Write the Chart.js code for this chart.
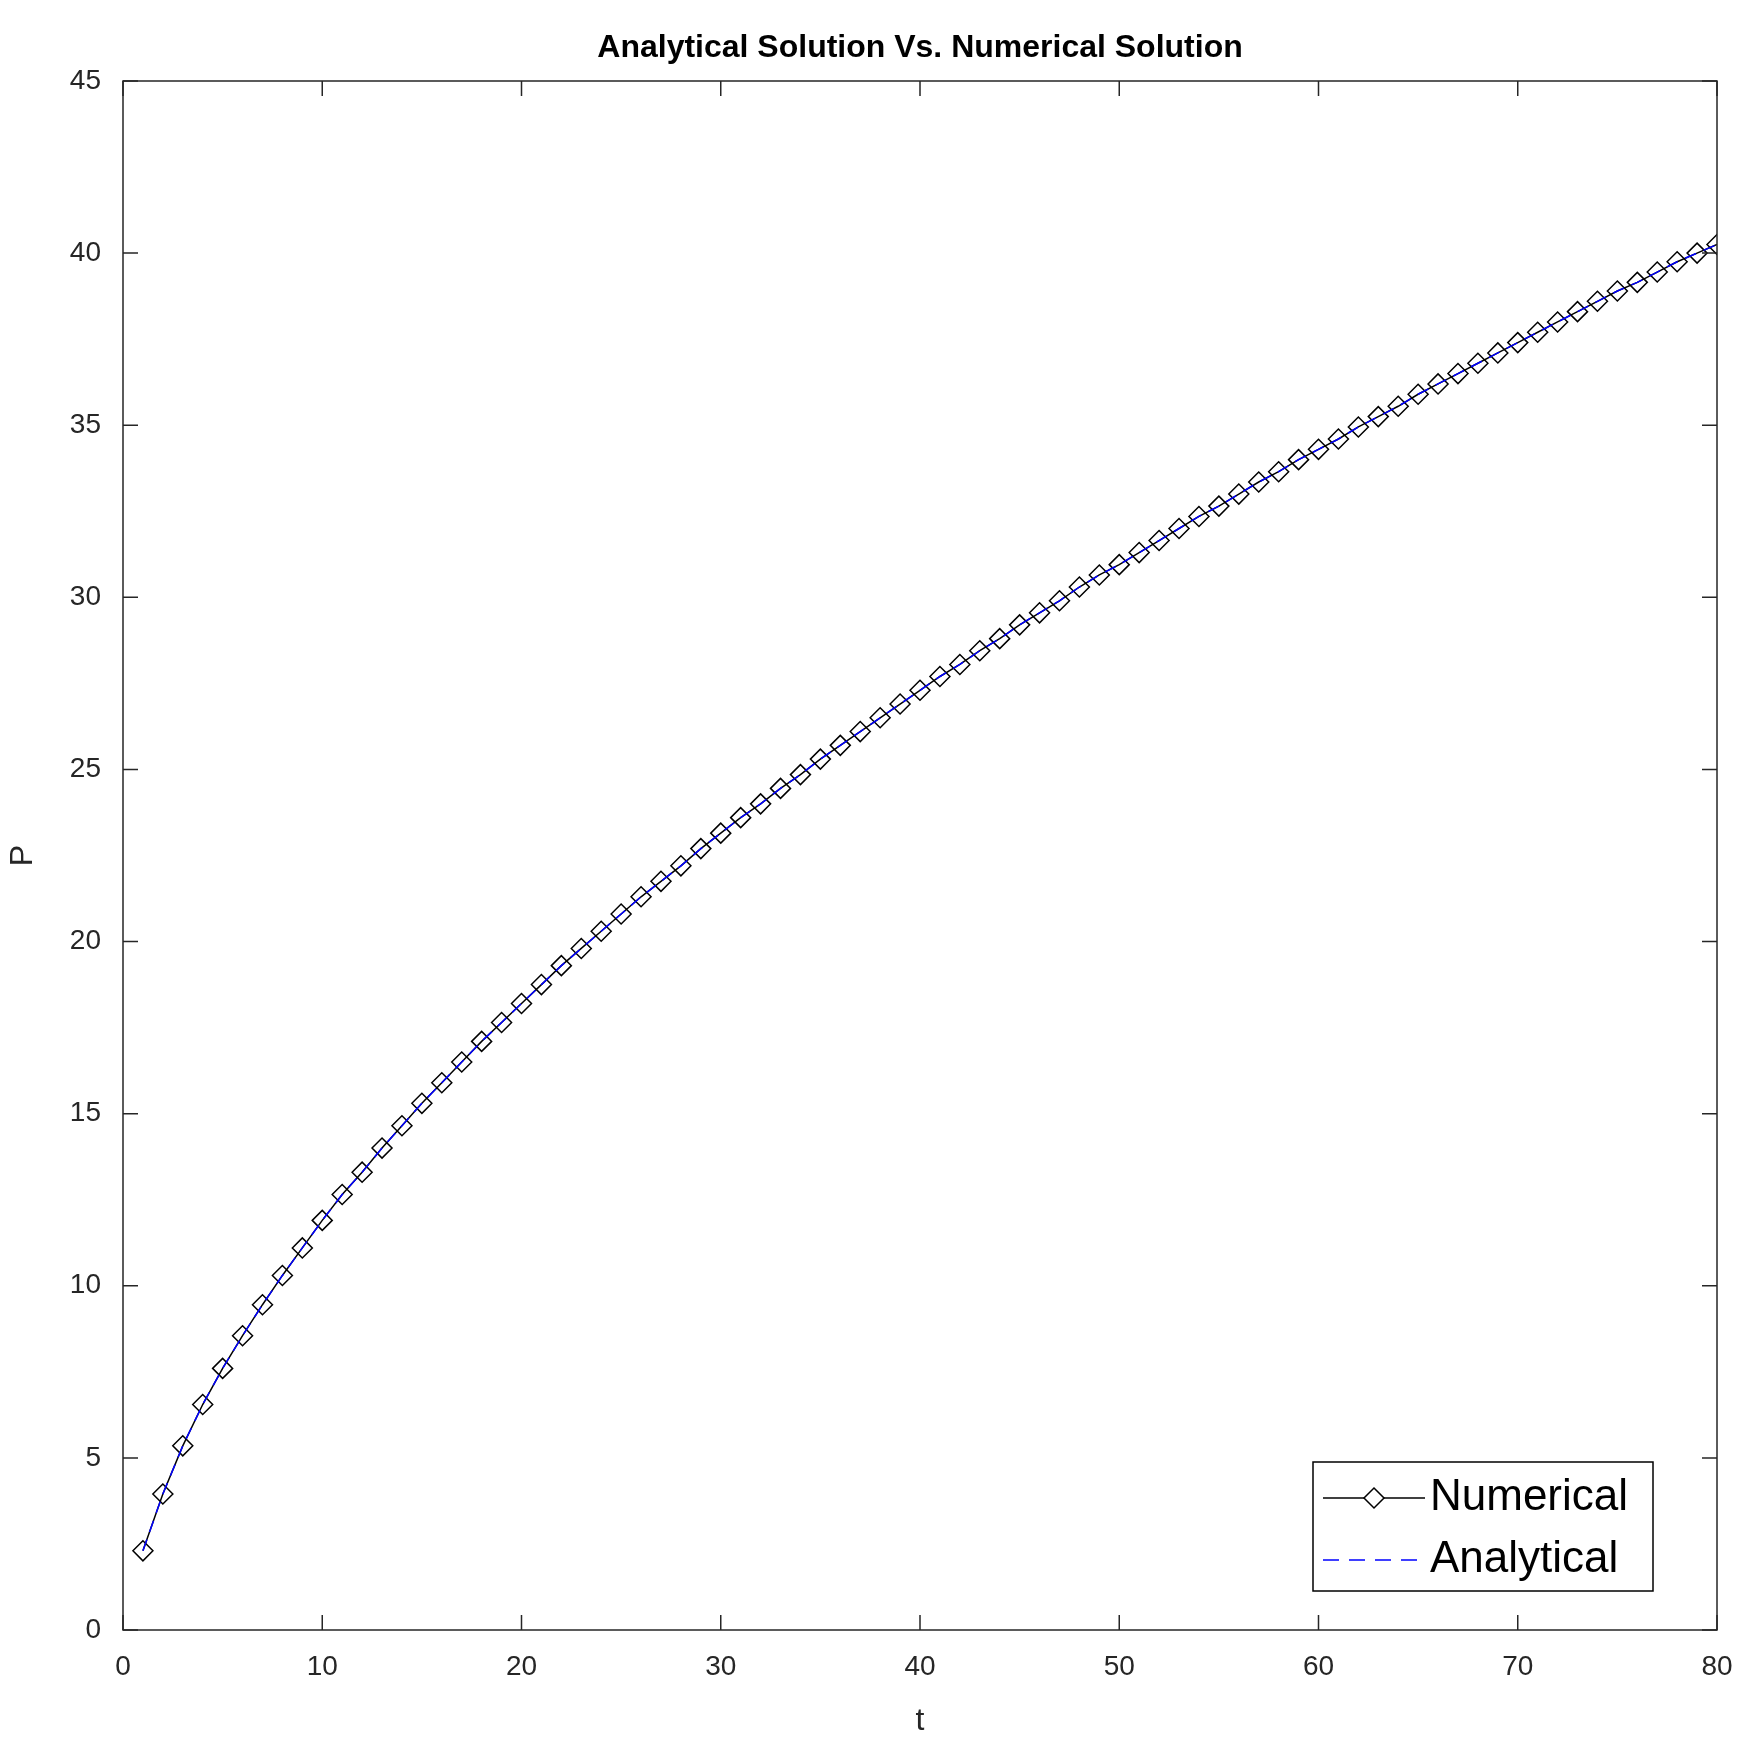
<!DOCTYPE html>
<html>
<head>
<meta charset="UTF-8">
<title>Analytical Solution Vs. Numerical Solution</title>
<script src="https://cdn.jsdelivr.net/npm/chart.js"></script>
<style>
  body { margin: 0; background: #fff; }
  #wrap { width: 1751px; height: 1740px; }
</style>
</head>
<body>
<div id="wrap"><canvas id="c" width="1751" height="1740"></canvas></div>
<script>
// time steps 1..80
const tValues = [];
for (let i = 1; i <= 80; i++) tValues.push(i);

// values
const numerical = [
  2.3, 3.95, 5.35, 6.55, 7.6, 8.55, 9.45, 10.3, 11.1, 11.9,
  12.65, 13.3, 14.0, 14.65, 15.3, 15.9, 16.5, 17.1, 17.65, 18.2,
  18.75, 19.3, 19.8, 20.3, 20.8, 21.3, 21.75, 22.2, 22.7, 23.15,
  23.6, 24.0, 24.45, 24.85, 25.3, 25.7, 26.1, 26.5, 26.9, 27.3,
  27.7, 28.05, 28.45, 28.8, 29.2, 29.55, 29.9, 30.3, 30.65, 30.95,
  31.3, 31.65, 32.0, 32.35, 32.65, 33.0, 33.35, 33.65, 34.0, 34.3,
  34.6, 34.95, 35.25, 35.55, 35.9, 36.2, 36.5, 36.8, 37.1, 37.4,
  37.7, 38.0, 38.3, 38.6, 38.9, 39.15, 39.45, 39.75, 40.0, 40.25
];
const analytical = [
  2.3, 3.95, 5.35, 6.55, 7.6, 8.55, 9.45, 10.3, 11.1, 11.9,
  12.65, 13.3, 14.0, 14.65, 15.3, 15.9, 16.5, 17.1, 17.65, 18.2,
  18.75, 19.3, 19.8, 20.3, 20.8, 21.3, 21.75, 22.2, 22.7, 23.15,
  23.6, 24.0, 24.45, 24.85, 25.3, 25.7, 26.1, 26.5, 26.9, 27.3,
  27.7, 28.05, 28.45, 28.8, 29.2, 29.55, 29.9, 30.3, 30.65, 30.95,
  31.3, 31.65, 32.0, 32.35, 32.65, 33.0, 33.35, 33.65, 34.0, 34.3,
  34.6, 34.95, 35.25, 35.55, 35.9, 36.2, 36.5, 36.8, 37.1, 37.4,
  37.7, 38.0, 38.3, 38.6, 38.9, 39.15, 39.45, 39.75, 40.0, 40.25
];
const xTicks = [0, 10, 20, 30, 40, 50, 60, 70, 80];
const yTicks = [0, 5, 10, 15, 20, 25, 30, 35, 40, 45];

const FONT = 'Arial, "Liberation Sans", sans-serif';
const TXT = '#262626';

// matlab-like box, inward ticks, title and legend
const matlabLook = {
  id: 'matlabLook',
  afterDraw(chart) {
    const ctx = chart.ctx, a = chart.chartArea;
    const xs = chart.scales.x, ys = chart.scales.y;
    ctx.save();
    ctx.strokeStyle = '#262626';
    ctx.lineWidth = 1.5;
    ctx.strokeRect(a.left, a.top, a.right - a.left, a.bottom - a.top);
    const len = 15;
    ctx.beginPath();
    xTicks.forEach(v => {
      const px = xs.getPixelForValue(v);
      ctx.moveTo(px, a.bottom); ctx.lineTo(px, a.bottom - len);
      ctx.moveTo(px, a.top); ctx.lineTo(px, a.top + len);
    });
    yTicks.forEach(v => {
      const py = ys.getPixelForValue(v);
      ctx.moveTo(a.left, py); ctx.lineTo(a.left + len, py);
      ctx.moveTo(a.right, py); ctx.lineTo(a.right - len, py);
    });
    ctx.stroke();

    // title
    ctx.fillStyle = '#000';
    ctx.font = 'bold 32px ' + FONT;
    ctx.textAlign = 'center';
    ctx.textBaseline = 'middle';
    ctx.fillText('Analytical Solution Vs. Numerical Solution', (a.left + a.right) / 2, 48);

    // legend
    const lx = 1313, ly = 1462, lw = 340, lh = 129;
    ctx.fillStyle = '#fff';
    ctx.fillRect(lx, ly, lw, lh);
    ctx.strokeStyle = '#000';
    ctx.lineWidth = 1.5;
    ctx.strokeRect(lx, ly, lw, lh);
    const r1 = ly + 36, r2 = ly + 98;
    ctx.beginPath();
    ctx.moveTo(lx + 10, r1); ctx.lineTo(lx + 112, r1);
    ctx.stroke();
    ctx.beginPath();
    ctx.moveTo(lx + 61, r1 - 10); ctx.lineTo(lx + 71, r1);
    ctx.lineTo(lx + 61, r1 + 10); ctx.lineTo(lx + 51, r1);
    ctx.closePath();
    ctx.fillStyle = '#fff'; ctx.fill(); ctx.stroke();
    ctx.strokeStyle = '#0000ff';
    ctx.setLineDash([16, 10]);
    ctx.beginPath();
    ctx.moveTo(lx + 10, r2); ctx.lineTo(lx + 112, r2);
    ctx.stroke();
    ctx.setLineDash([]);
    ctx.fillStyle = '#000';
    ctx.font = '44px ' + FONT;
    ctx.textAlign = 'left';
    ctx.fillText('Numerical', lx + 117, r1);
    ctx.fillText('Analytical', lx + 117, r2);
    ctx.restore();
  }
};

new Chart(document.getElementById('c'), {
  type: 'line',
  data: {
    labels: tValues,
    datasets: [
      {
        label: 'Numerical',
        data: numerical,
        borderColor: '#000',
        borderWidth: 1.5,
        pointStyle: 'rectRot',
        pointRadius: 10,
        pointBorderColor: '#000',
        pointBackgroundColor: 'rgba(0,0,0,0)',
        pointBorderWidth: 1.5,
        order: 1
      },
      {
        label: 'Analytical',
        data: analytical,
        borderColor: '#0000ff',
        borderWidth: 1.5,
        borderDash: [12, 8],
        pointRadius: 0,
        order: 0
      }
    ]
  },
  options: {
    responsive: false,
    animation: false,
    layout: { padding: { top: 81, right: 34, left: 0, bottom: 0 } },
    plugins: { legend: { display: false }, title: { display: false }, tooltip: { enabled: false } },
    scales: {
      x: {
        type: 'linear', min: 0, max: 80,
        grid: { display: false },
        border: { display: false },
        afterBuildTicks: s => { s.ticks = xTicks.map(v => ({ value: v })); },
        afterFit: s => { s.height = 110; },
        ticks: { color: TXT, font: { size: 28, family: FONT }, padding: 12, maxRotation: 0 },
        title: { display: true, text: 't', color: TXT, font: { size: 32, family: FONT }, padding: 0 }
      },
      y: {
        min: 0, max: 45,
        grid: { display: false },
        border: { display: false },
        afterBuildTicks: s => { s.ticks = yTicks.map(v => ({ value: v })); },
        afterFit: s => { s.width = 123; },
        ticks: { color: TXT, font: { size: 28, family: FONT }, padding: 14 },
        title: { display: true, text: 'P', color: TXT, font: { size: 32, family: FONT }, padding: 4 }
      }
    }
  },
  plugins: [matlabLook]
});
</script>
</body>
</html>
